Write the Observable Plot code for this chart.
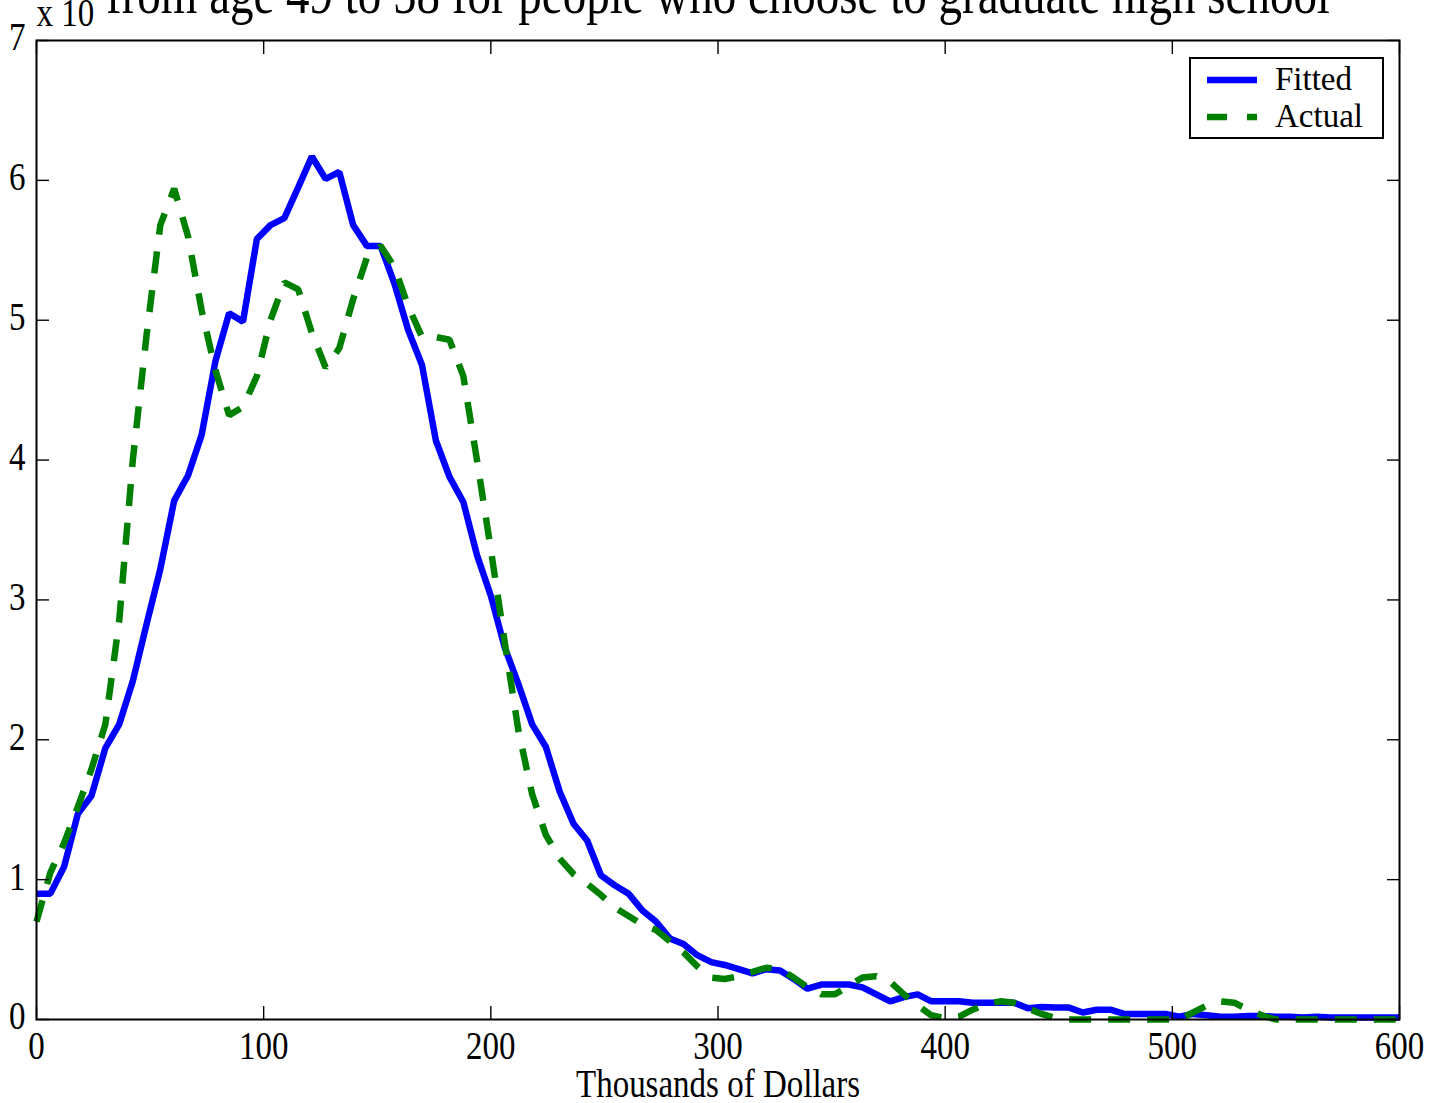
<!DOCTYPE html>
<html>
<head>
<meta charset="utf-8">
<script src="https://cdn.jsdelivr.net/npm/d3@7"></script>
<script src="https://cdn.jsdelivr.net/npm/@observablehq/plot@0.6"></script>
<style>
  html, body { margin: 0; padding: 0; background: #fff; }
  #wrap { position: relative; width: 1440px; height: 1103px; overflow: hidden; }
  #legend { position: absolute; left: 1189px; top: 57px; }
  #legend text { font-family: "Liberation Serif", "Times New Roman", serif; font-size: 33px; fill: #000; }
</style>
</head>
<body>
<div id="wrap">
  <div id="chart"></div>
  <svg id="legend" width="195" height="82">
    <rect x="1" y="1" width="193" height="80" fill="#fff" stroke="#000" stroke-width="2"></rect>
    <line x1="18" x2="68" y1="23" y2="23" stroke="#0000ff" stroke-width="6.5"></line>
    <line x1="18" x2="68" y1="60" y2="60" stroke="#008000" stroke-width="6.5" stroke-dasharray="20,20"></line>
    <text x="86" y="33">Fitted</text>
    <text x="86" y="70">Actual</text>
  </svg>
</div>
<script>
// ---- data ----
const thousands = [
  0, 6.1, 12.1, 18.2, 24.2, 30.3, 36.4, 42.4, 48.5, 54.5,
  60.6, 66.7, 72.7, 78.8, 84.8, 90.9, 97.0, 103.0, 109.1, 115.2,
  121.2, 127.3, 133.3, 139.4, 145.5, 151.5, 157.6, 163.6, 169.7, 175.8,
  181.8, 187.9, 193.9, 200.0, 206.1, 212.1, 218.2, 224.2, 230.3, 236.4,
  242.4, 248.5, 254.5, 260.6, 266.7, 272.7, 278.8, 284.8, 290.9, 297.0,
  303.0, 309.1, 315.2, 321.2, 327.3, 333.3, 339.4, 345.5, 351.5, 357.6,
  363.6, 369.7, 375.8, 381.8, 387.9, 393.9, 400.0, 406.1, 412.1, 418.2,
  424.2, 430.3, 436.4, 442.4, 448.5, 454.5, 460.6, 466.7, 472.7, 478.8,
  484.8, 490.9, 497.0, 503.0, 509.1, 515.2, 521.2, 527.3, 533.3, 539.4,
  545.5, 551.5, 557.6, 563.6, 569.7, 575.8, 581.8, 587.9, 593.9, 600.0
];
const fitted = [
  0.90, 0.90, 1.09, 1.47, 1.60, 1.94, 2.11, 2.42, 2.83, 3.22,
  3.71, 3.89, 4.18, 4.71, 5.05, 4.99, 5.58, 5.68, 5.73, 5.95,
  6.17, 6.01, 6.06, 5.68, 5.53, 5.53, 5.26, 4.93, 4.68, 4.14,
  3.88, 3.70, 3.32, 3.03, 2.66, 2.40, 2.11, 1.95, 1.63, 1.40,
  1.28, 1.03, 0.96, 0.90, 0.78, 0.70, 0.58, 0.54, 0.46, 0.41,
  0.39, 0.36, 0.33, 0.36, 0.35, 0.29, 0.22, 0.25, 0.25, 0.25,
  0.23, 0.18, 0.13, 0.16, 0.18, 0.13, 0.13, 0.13, 0.12, 0.12,
  0.12, 0.12, 0.08, 0.09, 0.085, 0.085, 0.05, 0.07, 0.07, 0.04,
  0.04, 0.04, 0.04, 0.02, 0.04, 0.03, 0.02, 0.02, 0.025, 0.025,
  0.02, 0.02, 0.015, 0.02, 0.015, 0.015, 0.015, 0.015, 0.015, 0.015
];
const actual = [
  0.70, 1.05, 1.26, 1.52, 1.79, 2.11, 2.85, 4.00, 4.90, 5.68,
  5.94, 5.60, 5.07, 4.64, 4.32, 4.38, 4.60, 5.00, 5.27, 5.22,
  4.91, 4.66, 4.80, 5.15, 5.45, 5.53, 5.38, 5.10, 4.88, 4.88,
  4.86, 4.60, 4.00, 3.36, 2.70, 2.07, 1.61, 1.32, 1.15, 1.04,
  0.97, 0.89, 0.80, 0.74, 0.68, 0.64, 0.56, 0.48, 0.38, 0.30,
  0.29, 0.31, 0.34, 0.37, 0.36, 0.30, 0.23, 0.18, 0.18, 0.24,
  0.30, 0.31, 0.27, 0.18, 0.10, 0.03, 0.01, 0.02, 0.07, 0.11,
  0.13, 0.12, 0.08, 0.04, 0.01, 0, 0, 0, 0, 0,
  0, 0, 0, 0, 0.05, 0.10, 0.13, 0.12, 0.07, 0.03,
  0, 0, 0, 0, 0, 0, 0, 0, 0, 0
];
const xTicks = [0, 100, 200, 300, 400, 500, 600];
const yTicks = [0, 1, 2, 3, 4, 5, 6, 7];
const titleText = "from age 49 to 58 for people who choose to graduate high school";
const exponentText = "x 10";
const xLabel = "Thousands of Dollars";

const rows = thousands.map((x, i) => ({x, fitted: fitted[i], actual: actual[i]}));

const chart = Plot.plot({
  width: 1440,
  height: 1103,
  marginLeft: 36,
  marginRight: 41,
  marginTop: 40,
  marginBottom: 84,
  x: {domain: [0, 600]},
  y: {domain: [0, 7]},
  style: {
    fontFamily: "'Liberation Serif', 'Times New Roman', serif",
    fontSize: "33px",
    color: "#000",
    background: "#fff",
    overflow: "visible"
  },
  marks: [
    Plot.line(rows, {x: "x", y: "fitted", stroke: "#0000ff", strokeWidth: 6.5, strokeLinejoin: "miter", strokeLinecap: "butt"}),
    Plot.line(rows, {x: "x", y: "actual", stroke: "#008000", strokeWidth: 6.5, strokeDasharray: "22,17", strokeLinejoin: "miter", strokeLinecap: "butt"}),
    Plot.frame({stroke: "#000", strokeWidth: 2}),
    // inward tick marks on all four sides
    Plot.axisX({ticks: xTicks, anchor: "bottom", tickSize: 13, dy: -13, strokeWidth: 1.4, tickFormat: () => "", label: null}),
    Plot.axisX({ticks: xTicks, anchor: "top", tickSize: 13, dy: 13, strokeWidth: 1.4, tickFormat: () => "", label: null}),
    Plot.axisY({ticks: yTicks, anchor: "left", tickSize: 13, dx: 13, strokeWidth: 1.4, tickFormat: () => "", label: null}),
    Plot.axisY({ticks: yTicks, anchor: "right", tickSize: 13, dx: -13, strokeWidth: 1.4, tickFormat: () => "", label: null}),
    // tick labels
    Plot.axisX({ticks: xTicks, anchor: "bottom", tickSize: 0, tickPadding: 11, tickFormat: d => String(d), label: xLabel, labelAnchor: "center", labelArrow: "none", labelOffset: 77}),
    Plot.axisY({ticks: yTicks, anchor: "left", tickSize: 0, tickPadding: 11, dy: -3, tickFormat: d => String(d), label: null}),
    // title (second line visible at top) and exponent marker
    Plot.text([titleText], {text: d => d, frameAnchor: "top", dy: -28, lineAnchor: "bottom", fontSize: 47}),
    Plot.text([exponentText], {text: d => d, frameAnchor: "top-left", dy: -15, textAnchor: "start", lineAnchor: "bottom", fontSize: 33})
  ]
});

// the reference's type is drawn taller than wide: stretch glyphs vertically
d3.select(chart).selectAll("text").each(function () {
  const t = this.getAttribute("transform") || "";
  this.setAttribute("transform", t + " scale(1,1.22)");
});

document.getElementById("chart").appendChild(chart);
</script>
</body>
</html>
